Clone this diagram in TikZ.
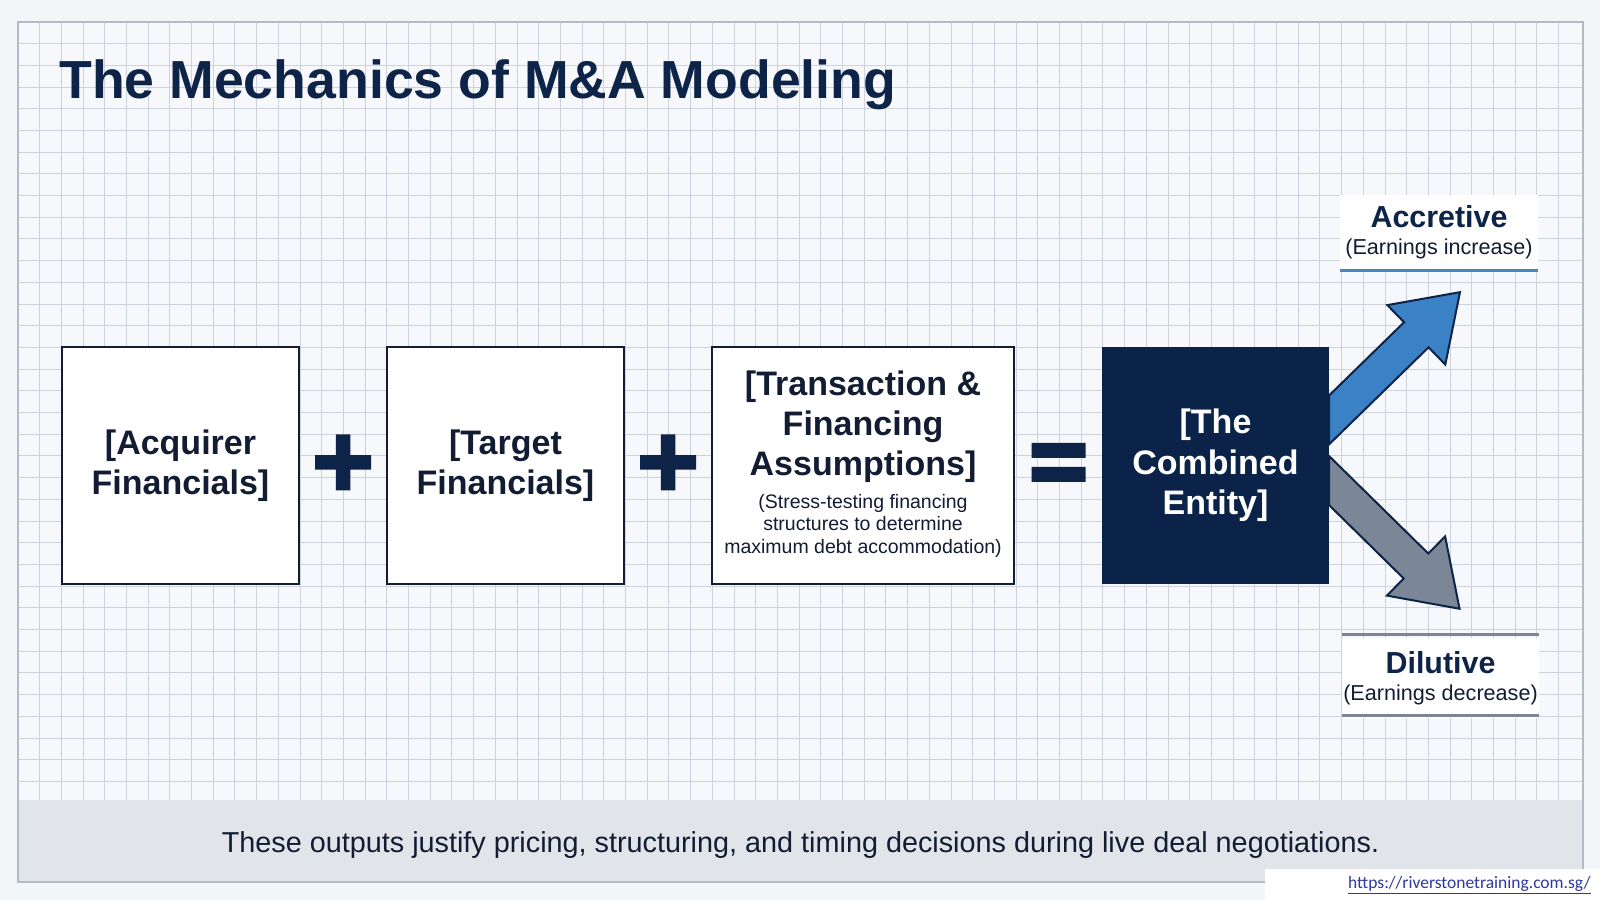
\documentclass[tikz,border=0pt]{standalone}
\usepackage{fontspec}
\setmainfont{Liberation Sans}
\newfontfamily\urlfont{Carlito}
\usetikzlibrary{positioning,calc}

\definecolor{pagebg}{HTML}{F3F6F9}
\definecolor{sheetbg}{HTML}{F6F8FB}
\definecolor{gridcol}{HTML}{CDD3DA}
\definecolor{framecol}{HTML}{B4BBC4}
\definecolor{barcol}{HTML}{E1E5EA}
\definecolor{navy}{HTML}{0D2348}
\definecolor{inkcol}{HTML}{121C33}
\definecolor{entityfill}{HTML}{0B2349}
\definecolor{upblue}{HTML}{3A82C5}
\definecolor{downgray}{HTML}{7B8696}
\definecolor{upline}{HTML}{4A86BE}
\definecolor{downline}{HTML}{7D8692}
\definecolor{linkblue}{HTML}{2B3A9C}

\begin{document}
\begin{tikzpicture}[
	x = 0.5pt, y = 0.5pt, % one unit is one pixel of the slide
	gridline/.style={draw=gridcol, line width=0.6pt},
	block/.style={rectangle, draw=inkcol, line width=1pt, fill=white, minimum width=118.5pt, minimum height=118.5pt, inner sep=0pt, align=center, text=inkcol, font=\bfseries\fontsize{17}{20}\selectfont},
	entitybox/.style={block, draw=entityfill, fill=entityfill, text=white, minimum width=112.5pt, minimum height=117.5pt, font=\bfseries\fontsize{17}{20.25}\selectfont},
	blocktitle/.style={inner sep=0pt, align=center, text=inkcol, font=\bfseries\fontsize{17}{20}\selectfont},
	subnote/.style={inner sep=0pt, align=center, text=inkcol, font=\fontsize{9.75}{11.25}\selectfont},
	outcome/.style={rectangle, fill=white, minimum width=99pt, minimum height=37.5pt, inner sep=0pt, align=center, text=inkcol, font=\fontsize{10.8}{13.5}\selectfont},
	fatarrow/.style={draw=navy, line width=1pt, line join=miter},
	]

	% Sheet, grid and footer bar
	\useasboundingbox (0,0) rectangle (1600,900);
	\fill[pagebg] (0,0) rectangle (1600,900);
	\fill[sheetbg] (18,18) rectangle (1583,878);
	\foreach \i in {1,...,71}
		\draw[gridline] ({int(18+21.7*\i)+0.5},100) -- ({int(18+21.7*\i)+0.5},878);
	\foreach \j in {1,...,35}
		\draw[gridline] (18,{int(878-21.7*\j)+0.5}) -- (1583,{int(878-21.7*\j)+0.5});
	\fill[barcol] (18,18) rectangle (1583,100);
	\draw[framecol, line width=1pt] (18,18) rectangle (1583,878);

	% Title
	\node[anchor=base west, inner sep=0pt, text=navy, font=\bfseries\fontsize{26.8}{32}\selectfont] (title) at (59,801) {The Mechanics of M\&A Modeling};

	% Building blocks
	\node[block] (acq) at (180.5,434.5) {[Acquirer\\Financials]};
	\node[block] (targ) [right = 43pt of acq] {[Target\\Financials]};
	\node[block, minimum width=151pt] (trans) [right = 43pt of targ] {};
	\node[blocktitle] (transhead) at (trans.center) [yshift=19.25pt] {[Transaction \&\\Financing\\Assumptions]};
	\node[subnote] (transnote) at (trans.center) [yshift=-30pt] {(Stress-testing financing\\structures to determine\\maximum debt accommodation)};
	\node[entitybox] (entity) [right = 43.5pt of trans] {[The\\Combined\\Entity]};

	% Operators
	\coordinate (plusA) at ($(acq.east)!0.5!(targ.west)+(0,3)$);
	\coordinate (plusB) at ($(targ.east)!0.5!(trans.west)+(0,3)$);
	\coordinate (equal) at ($(trans.east)!0.5!(entity.west)+(0,3)$);
	\fill[navy, shift={(plusA)}] (-28,-7.25) rectangle (28,7.25) (-7.25,-28) rectangle (7.25,28);
	\fill[navy, shift={(plusB)}] (-28,-7.25) rectangle (28,7.25) (-7.25,-28) rectangle (7.25,28);
	\fill[navy, shift={(equal)}] (-27,4.5) rectangle (27,19.5) (-27,-4.5) rectangle (27,-19.5);

	% Outcome arrows
	\draw[fatarrow, fill=upblue, shift={(entity.east)}, yshift=22.75pt, rotate=44.3]
		(-17.1,-17.5) -- (122,-17.5) -- (122,-41.5) -- (183,0) -- (122,41.5) -- (122,17.5) -- (17.1,17.5) -- cycle;
	\draw[fatarrow, fill=downgray, shift={(entity.east)}, yshift=-7.5pt, rotate=-44.5]
		(17.2,-17.5) -- (122,-17.5) -- (122,-41.5) -- (183,0) -- (122,41.5) -- (122,17.5) -- (-17.2,17.5) -- cycle;

	% Outcome labels
	\node[outcome] (accr) at (1439,667.5) {{\color{navy}\bfseries\fontsize{15.2}{13.5}\selectfont Accretive}\\(Earnings increase)};
	\draw[upline, line width=1.5pt] (accr.south west) -- (accr.south east);
	\node[outcome, minimum width=98.5pt, minimum height=40pt] (dilu) at (1440.5,222) {{\color{navy}\bfseries\fontsize{15.2}{13.5}\selectfont Dilutive}\\(Earnings decrease)};
	\draw[downline, line width=1.5pt] ([yshift=1.5pt]dilu.north west) -- ([yshift=1.5pt]dilu.north east);
	\draw[downline, line width=1.5pt] ([yshift=1.5pt]dilu.south west) -- ([yshift=1.5pt]dilu.south east);

	% Footer
	\node[anchor=base, inner sep=0pt, text=inkcol, font=\fontsize{14.4}{17}\selectfont] (footer) at (800.5,48) {These outputs justify pricing, structuring, and timing decisions during live deal negotiations.};
	\fill[white] (1265,0) rectangle (1600,31);
	\node[anchor=base east, inner sep=0pt, text=linkblue, font=\urlfont\fontsize{8.75}{10}\selectfont] (link) at (1591,12) {\underline{https://riverstonetraining.com.sg/}};

\end{tikzpicture}
\end{document}
